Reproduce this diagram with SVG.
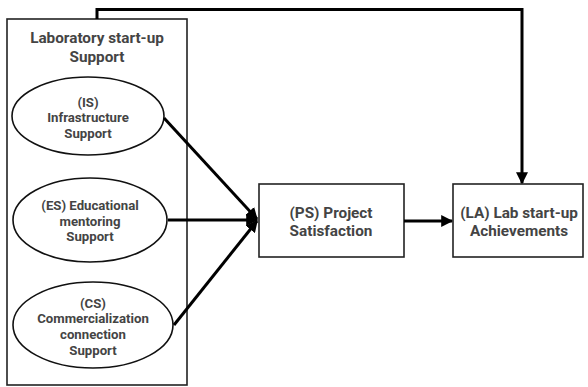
<svg xmlns="http://www.w3.org/2000/svg" width="588" height="387" viewBox="0 0 588 387">
<defs>
<style>
.box{fill:#fff;stroke:#222;stroke-width:1.6}
.ell{fill:#fff;stroke:#111;stroke-width:1.6}
.t{font-family:Roboto,"Liberation Sans",sans-serif;font-weight:bold;fill:#444;text-anchor:middle}
.s{font-size:13.2px}
.m{font-size:15.3px}
.c{fill:none;stroke:#000;stroke-width:3}
</style>
<marker id="ah" viewBox="0 0 10 10" refX="9" refY="5" markerWidth="4" markerHeight="4" orient="auto" markerUnits="strokeWidth">
<path d="M0,0 L10,5 L0,10 z" fill="#000"/>
</marker>
</defs>
<rect width="588" height="387" fill="#fff"/>
<g id="group-lab">
<rect class="box" x="7" y="19" width="180" height="366"/>
<text class="t m" x="97" y="43">Laboratory start-up</text>
<text class="t m" x="97" y="62">Support</text>
</g>
<g id="node-is">
<ellipse class="ell" cx="88" cy="116" rx="76" ry="39"/>
<text class="t s" x="88" y="106.5">(IS)</text>
<text class="t s" x="88" y="122">Infrastructure</text>
<text class="t s" x="88" y="138">Support</text>
</g>
<g id="node-es">
<ellipse class="ell" cx="90" cy="220" rx="77" ry="42"/>
<text class="t s" x="90" y="209.5">(ES) Educational</text>
<text class="t s" x="90" y="225.5">mentoring</text>
<text class="t s" x="90" y="241">Support</text>
</g>
<g id="node-cs">
<ellipse class="ell" cx="93" cy="325" rx="80" ry="43"/>
<text class="t s" x="93" y="307.5">(CS)</text>
<text class="t s" x="93" y="323">Commercialization</text>
<text class="t s" x="93" y="339">connection</text>
<text class="t s" x="93" y="354.5">Support</text>
</g>
<g id="node-ps">
<rect class="box" x="259" y="184" width="145" height="73"/>
<text class="t m" x="331" y="217.5">(PS) Project</text>
<text class="t m" x="331" y="235.5">Satisfaction</text>
</g>
<g id="node-la">
<rect class="box" x="453" y="184" width="130" height="73"/>
<text class="t m" x="519" y="217.5">(LA) Lab start-up</text>
<text class="t m" x="519" y="235.5">Achievements</text>
</g>
<g id="connectors">
<line class="c" x1="164" y1="118" x2="257" y2="219" marker-end="url(#ah)"/>
<line class="c" x1="168" y1="220" x2="257" y2="220" marker-end="url(#ah)"/>
<line class="c" x1="174" y1="325" x2="257" y2="221" marker-end="url(#ah)"/>
<line class="c" x1="404" y1="221" x2="452" y2="221" marker-end="url(#ah)"/>
<polyline class="c" points="97,19 97,9.5 522,9.5 522,183" marker-end="url(#ah)"/>
</g>
</svg>
